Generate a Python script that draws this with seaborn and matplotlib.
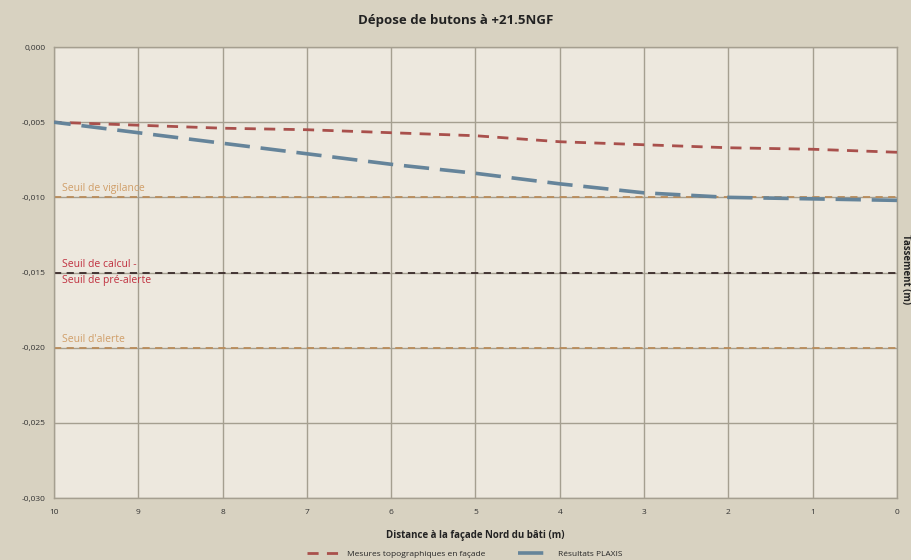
import numpy as np
import pandas as pd
import matplotlib
matplotlib.use("Agg")
import matplotlib.pyplot as plt
import seaborn as sns
from matplotlib.ticker import FuncFormatter
from matplotlib.lines import Line2D

# Data
distance = [10, 9, 8, 7, 6, 5, 4, 3, 2, 1, 0]
mesures_topo = [-0.0050, -0.0052, -0.0054, -0.0055, -0.0057, -0.0059,
                -0.0063, -0.0065, -0.0067, -0.0068, -0.0070]
plaxis = [-0.0050, -0.0057, -0.0064, -0.0071, -0.0078, -0.0084,
          -0.0091, -0.0097, -0.0100, -0.0101, -0.0102]
seuil_values = [-0.010, -0.015, -0.020]
seuil_labels = ["Seuil de vigilance", "Seuil de calcul -\nSeuil de pré-alerte", "Seuil d'alerte"]
series_names = ["Mesures topographiques en façade", "Résultats PLAXIS"]

df = pd.DataFrame({
    "distance": distance * 2,
    "tassement": mesures_topo + plaxis,
    "serie": [series_names[0]] * len(distance) + [series_names[1]] * len(distance),
})

sns.set_theme(style="white")
plt.rcParams["font.family"] = ["Open Sans", "DejaVu Sans"]

fig = plt.figure(figsize=(9.11, 5.60), dpi=100)
fig.patch.set_facecolor("#d8d2c1")
ax = fig.add_axes([0.0593, 0.1107, 0.9253, 0.8053])
ax.set_facecolor("#ede8de")

ax.set_xlim(10, 0)
ax.set_ylim(-0.030, 0.0)
ax.set_xticks(range(0, 11))
ax.set_yticks(np.arange(-0.030, 0.0001, 0.005))
ax.grid(True, color="#a59f90", linewidth=1.0)
ax.set_axisbelow(True)
for s in ax.spines.values():
    s.set_color("#a59f90")
    s.set_linewidth(1.0)

# thresholds
seuil_colors = ["#b98c5a", "#3a2a2a", "#b98c5a"]
text_colors = ["#d09e68", "#c0303f", "#d09e68"]
for v, lab, lc, tc in zip(seuil_values, seuil_labels, seuil_colors, text_colors):
    ax.axhline(v, color=lc, linestyle=(0, (4, 3)), linewidth=1.3, zorder=2)
    if "\n" in lab:
        ax.text(9.9, v, lab, color=tc, fontsize=7.5, va="center", ha="left",
                linespacing=1.6, zorder=3)
    else:
        ax.text(9.9, v + 0.0002, lab, color=tc, fontsize=7.5, va="bottom", ha="left", zorder=3)

palette = {series_names[0]: "#a9504c", series_names[1]: "#65849a"}
sns.lineplot(data=df, x="distance", y="tassement", hue="serie", palette=palette,
             style="serie", dashes={series_names[0]: (4, 3), series_names[1]: (7, 3)},
             ax=ax, legend=False, zorder=4)
lines = ax.get_lines()[-2:]
lines[0].set_linewidth(2.0)
lines[1].set_linewidth(2.6)

ax.yaxis.set_major_formatter(FuncFormatter(lambda v, p: f"{v:.3f}".replace(".", ",").replace("-0,000", "0,000")))
ax.tick_params(axis="both", labelsize=6, colors="#333333", length=0, pad=6)
ax.tick_params(axis="x", pad=4, length=4, direction="out", color="#a59f90")
ax.set_xlabel("Distance à la façade Nord du bâti (m)", fontsize=7, fontweight="bold", color="#222222", labelpad=10)
ax.set_ylabel("")
fig.text(0.994, 0.52, "Tassement (m)", rotation=270, fontsize=7, fontweight="bold",
         color="#222222", va="center", ha="center")
fig.suptitle("Dépose de butons à +21.5NGF", fontsize=9.5, fontweight="bold", color="#222222", y=0.975)

handles = [Line2D([], [], color=palette[series_names[0]], linestyle=(0, (4, 3)), linewidth=2.0),
           Line2D([], [], color=palette[series_names[1]], linestyle=(0, (7, 3)), linewidth=2.6)]
fig.legend(handles, series_names, loc="lower center", bbox_to_anchor=(0.51, -0.01), ncol=2,
           frameon=False, fontsize=6, columnspacing=4, handlelength=4)

fig.savefig("out.png", dpi=100, facecolor=fig.get_facecolor())
